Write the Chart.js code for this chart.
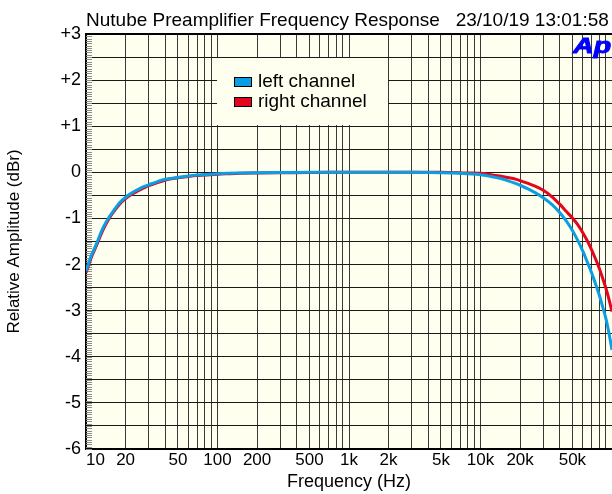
<!DOCTYPE html>
<html>
<head>
<meta charset="utf-8">
<script src="https://cdn.jsdelivr.net/npm/chart.js@4"></script>
<style>
  html, body { margin: 0; padding: 0; background: #fff; }
  #wrap { width: 612px; height: 494px; }
</style>
</head>
<body>
<div id="wrap"><canvas id="responseChart" width="612" height="494"></canvas></div>
<script>
const chartTitle = 'Nutube Preamplifier Frequency Response   23/10/19 13:01:58';

// measured points, Hz / dBr
const freqHz = [10, 11, 12, 13.5, 15, 16.5, 18, 20, 22.5, 25, 27.5, 30, 35, 40, 50, 60, 70, 80, 100,
  120, 150, 200, 300, 500, 700, 1000, 1500, 2000, 3000, 4000, 5000, 6000, 7000, 8000, 10000,
  12000, 14000, 16000, 18000, 20000, 23000, 26000, 30000, 35000, 40000, 45000, 50000, 55000,
  60000, 65000, 70000, 75000, 80000, 85000, 90000, 95000, 100000];
const leftDb = [-2.14, -1.80, -1.55, -1.20, -0.97, -0.80, -0.66, -0.54, -0.44, -0.37, -0.31, -0.27,
  -0.20, -0.15, -0.11, -0.08, -0.06, -0.05, -0.03, -0.02, -0.015, -0.01, -0.005, 0, 0, 0, 0, 0, 0,
  -0.005, -0.01, -0.015, -0.02, -0.03, -0.05, -0.09, -0.13, -0.18, -0.23, -0.28, -0.36, -0.44,
  -0.55, -0.70, -0.87, -1.06, -1.26, -1.48, -1.71, -1.95, -2.18, -2.42, -2.66, -2.92, -3.18,
  -3.50, -3.85];
const rightDb = [-2.18, -1.84, -1.59, -1.24, -1.00, -0.83, -0.69, -0.57, -0.47, -0.40, -0.34, -0.29,
  -0.22, -0.17, -0.12, -0.09, -0.07, -0.06, -0.04, -0.03, -0.02, -0.015, -0.01, -0.005, 0, 0, 0, 0,
  0, 0, 0, -0.005, -0.01, -0.015, -0.02, -0.05, -0.08, -0.11, -0.14, -0.18, -0.24, -0.30, -0.39,
  -0.53, -0.69, -0.85, -0.99, -1.14, -1.31, -1.49, -1.68, -1.88, -2.08, -2.30, -2.52, -2.76, -3.02];

const seriesNames = ['left channel', 'right channel'];

const xTickValues = [10, 20, 50, 100, 200, 500, 1000, 2000, 5000, 10000, 20000, 50000];
const xTickLabels = ['10', '20', '50', '100', '200', '500', '1k', '2k', '5k', '10k', '20k', '50k'];
const xGridValues = [10, 20, 30, 40, 50, 60, 70, 80, 90,
  100, 200, 300, 400, 500, 600, 700, 800, 900,
  1000, 2000, 3000, 4000, 5000, 6000, 7000, 8000, 9000,
  10000, 20000, 30000, 40000, 50000, 60000, 70000, 80000, 90000, 100000];

const yTickValues = [3, 2, 1, 0, -1, -2, -3, -4, -5, -6];
const yTickLabels = ['+3', '+2', '+1', '0', '-1', '-2', '-3', '-4', '-5', '-6'];
const yGridValues = [3, 2.5, 2, 1.5, 1, 0.5, 0, -0.5, -1, -1.5, -2, -2.5, -3, -3.5, -4, -4.5,
  -5, -5.5, -6];

const plotBg = '#fffff0';
const fontFamily = '"Liberation Sans", Arial, Helvetica, sans-serif';
const blue = '#0a9fe3';
const red = '#e3061c';

function toPoints(ys) {
  return freqHz.map((f, i) => ({ x: f, y: ys[i] }));
}

const apDecor = {
  id: 'apDecor',
  beforeDraw(chart) {
    const { ctx, chartArea: a } = chart;
    ctx.save();
    ctx.fillStyle = plotBg;
    ctx.fillRect(a.left, a.top, a.right - a.left, a.bottom - a.top);
    ctx.restore();
  },
  beforeDatasetsDraw(chart) {
    const { ctx, chartArea: a, scales } = chart;
    const y = scales.y;
    ctx.save();
    // fine ticks on the left edge
    ctx.strokeStyle = '#8c8c8c';
    ctx.lineWidth = 1;
    ctx.beginPath();
    for (let i = 0; i <= 180; i++) {
      const py = Math.round(y.getPixelForValue(y.min + i * 0.05)) + 0.5;
      ctx.moveTo(a.left, py);
      ctx.lineTo(a.left + 6, py);
    }
    ctx.stroke();

    // top frame line
    ctx.strokeStyle = '#000';
    ctx.lineWidth = 2;
    ctx.beginPath();
    ctx.moveTo(a.left, a.top);
    ctx.lineTo(a.right, a.top);
    ctx.stroke();

    // legend panel
    const lx = a.left + 131, ly = a.top + 24;
    ctx.fillStyle = plotBg;
    ctx.fillRect(lx, ly, 171, 67);
    ctx.font = '19px ' + fontFamily;
    ctx.textBaseline = 'middle';
    ctx.lineWidth = 1;
    chart.data.datasets.forEach((ds, i) => {
      const sy = ly + 19 + i * 20;
      ctx.fillStyle = ds.borderColor;
      ctx.fillRect(lx + 17, sy, 18, 10);
      ctx.strokeStyle = '#000';
      ctx.strokeRect(lx + 17.5, sy + 0.5, 17, 9);
      ctx.fillStyle = '#000';
      ctx.fillText(ds.label, lx + 41, sy + 5);
    });
    ctx.restore();
  },
  afterDraw(chart) {
    const { ctx, chartArea: a } = chart;
    ctx.save();
    ctx.translate(a.right - 39, a.top + 19);
    ctx.scale(1.3, 1);
    ctx.fillStyle = '#0000ff';
    ctx.strokeStyle = '#0000ff';
    ctx.lineWidth = 0.9;
    ctx.font = 'italic bold 22px ' + fontFamily;
    ctx.textBaseline = 'alphabetic';
    ctx.fillText('Ap', 0, 0);
    ctx.strokeText('Ap', 0, 0);
    ctx.restore();
  }
};

new Chart(document.getElementById('responseChart'), {
  type: 'line',
  data: {
    datasets: [{
      label: seriesNames[0],
      data: toPoints(leftDb),
      borderColor: blue,
      backgroundColor: blue,
      borderWidth: 3,
      pointRadius: 0,
      cubicInterpolationMode: 'monotone'
    }, {
      label: seriesNames[1],
      data: toPoints(rightDb),
      borderColor: red,
      backgroundColor: red,
      borderWidth: 3,
      pointRadius: 0,
      cubicInterpolationMode: 'monotone'
    }]
  },
  options: {
    responsive: false,
    animation: false,
    devicePixelRatio: 1,
    layout: { padding: 0 },
    plugins: {
      legend: { display: false },
      tooltip: { enabled: false },
      title: {
        display: true,
        text: chartTitle,
        align: 'start',
        fullSize: false,
        color: '#000',
        font: { family: fontFamily, size: 19, weight: 'normal' },
        padding: { top: 9, bottom: 2.2 }
      }
    },
    scales: {
      x: {
        type: 'logarithmic',
        min: 10,
        max: 100000,
        afterBuildTicks: scale => {
          scale.ticks = xGridValues.map(v => ({ value: v }));
        },
        afterFit: scale => {
          scale.height = 45;
          scale.paddingLeft = 0;
          scale.paddingRight = 0;
        },
        grid: { color: '#3a3a3a', lineWidth: 1, drawTicks: false },
        border: { display: true, color: '#000', width: 2 },
        ticks: {
          autoSkip: false,
          maxRotation: 0,
          align: 'inner',
          padding: 1,
          color: '#000',
          font: { family: fontFamily, size: 17 },
          callback: value => {
            const i = xTickValues.indexOf(value);
            return i >= 0 ? xTickLabels[i] : '';
          }
        },
        title: {
          display: true,
          text: 'Frequency (Hz)',
          color: '#000',
          font: { family: fontFamily, size: 18 },
          padding: { top: 0, bottom: 1 }
        }
      },
      y: {
        min: -6,
        max: 3,
        afterBuildTicks: scale => {
          scale.ticks = yGridValues.map(v => ({ value: v }));
        },
        afterFit: scale => {
          scale.width = 86;
          scale.paddingTop = 0;
          scale.paddingBottom = 0;
        },
        grid: { color: '#1a1a1a', lineWidth: 1, drawTicks: false },
        border: { display: true, color: '#000', width: 2 },
        ticks: {
          autoSkip: false,
          padding: 5,
          color: '#000',
          font: { family: fontFamily, size: 18 },
          callback: value => {
            const i = yTickValues.indexOf(value);
            return i >= 0 ? yTickLabels[i] : '';
          }
        },
        title: {
          display: true,
          text: 'Relative Amplitude (dBr)',
          color: '#000',
          font: { family: fontFamily, size: 17 },
          padding: { top: 4, bottom: 0 }
        }
      }
    }
  },
  plugins: [apDecor]
});
</script>
</body>
</html>
